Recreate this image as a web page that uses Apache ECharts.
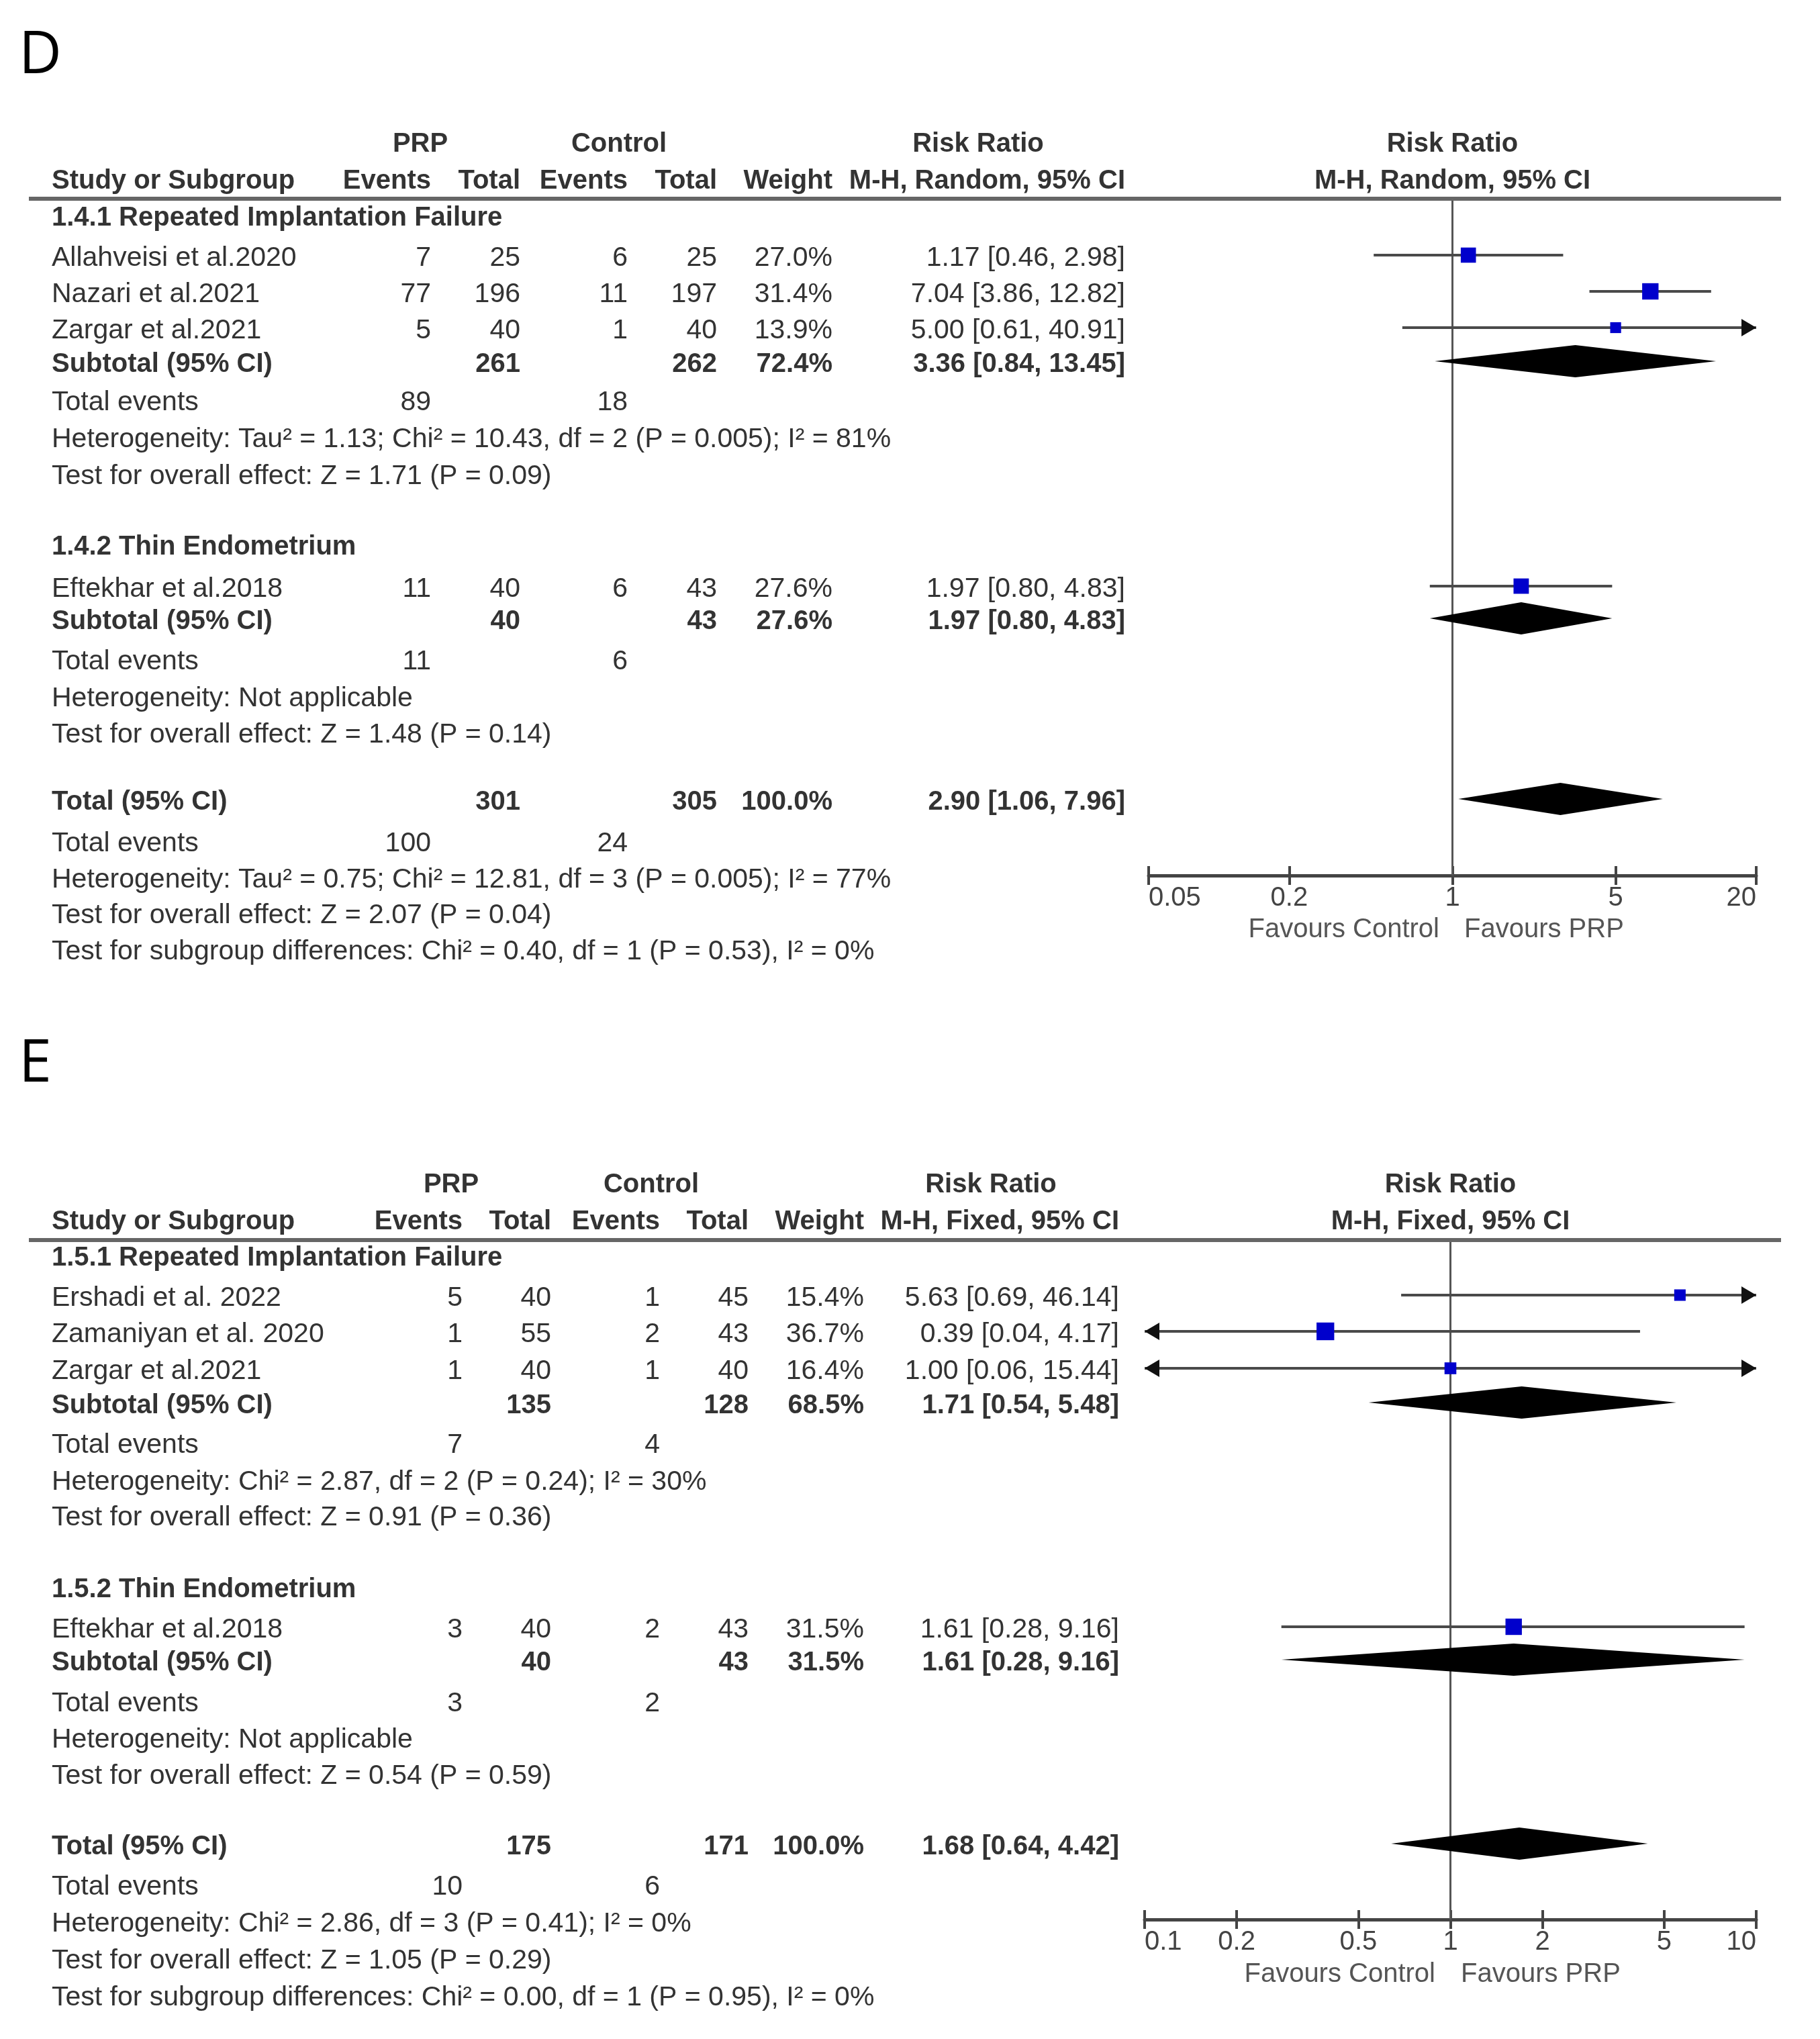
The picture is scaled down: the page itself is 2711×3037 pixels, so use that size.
<!DOCTYPE html>
<html><head><meta charset="utf-8">
<script src="https://cdn.jsdelivr.net/npm/echarts@6/dist/echarts.min.js"></script>
<style>html,body{margin:0;padding:0;background:#fff}#c{width:2711px;height:3037px}</style>
</head><body><div id="c"></div>
<script>
// ================= DATA: Panel D =================
const dStudyNames = ['Allahveisi et al.2020', 'Nazari et al.2021', 'Zargar et al.2021', 'Eftekhar et al.2018'];
const dStudyGroup = [0, 0, 0, 1];
const dPrpEvents = [7, 77, 5, 11];
const dPrpTotal = [25, 196, 40, 40];
const dCtlEvents = [6, 11, 1, 6];
const dCtlTotal = [25, 197, 40, 43];
const dWeight = [27.0, 31.4, 13.9, 27.6];
const dRR = [1.17, 7.04, 5.00, 1.97];
const dLow = [0.46, 3.86, 0.61, 0.80];
const dHigh = [2.98, 12.82, 40.91, 4.83];
const dGroupNames = ['1.4.1 Repeated Implantation Failure', '1.4.2 Thin Endometrium'];
const dSubPrpTotal = [261, 40];
const dSubCtlTotal = [262, 43];
const dSubWeight = [72.4, 27.6];
const dSubRR = [3.36, 1.97];
const dSubLow = [0.84, 0.80];
const dSubHigh = [13.45, 4.83];
const dSubPrpEvents = [89, 11];
const dSubCtlEvents = [18, 6];
const dSubHet = ['Heterogeneity: Tau² = 1.13; Chi² = 10.43, df = 2 (P = 0.005); I² = 81%', 'Heterogeneity: Not applicable'];
const dSubTest = ['Test for overall effect: Z = 1.71 (P = 0.09)', 'Test for overall effect: Z = 1.48 (P = 0.14)'];
const dTotalN = [301, 305];
const dTotalWeight = [100.0];
const dTotalCI = [2.90, 1.06, 7.96];
const dTotalEvents = [100, 24];
const dTotalNotes = ['Heterogeneity: Tau² = 0.75; Chi² = 12.81, df = 3 (P = 0.005); I² = 77%', 'Test for overall effect: Z = 2.07 (P = 0.04)', 'Test for subgroup differences: Chi² = 0.40, df = 1 (P = 0.53), I² = 0%'];
const dTicks = [0.05, 0.2, 1, 5, 20];
const dTickLabels = ['0.05', '0.2', '1', '5', '20'];
const dMethod = 'M-H, Random, 95% CI';

// ================= DATA: Panel E =================
const eStudyNames = ['Ershadi et al. 2022', 'Zamaniyan et al. 2020', 'Zargar et al.2021', 'Eftekhar et al.2018'];
const eStudyGroup = [0, 0, 0, 1];
const ePrpEvents = [5, 1, 1, 3];
const ePrpTotal = [40, 55, 40, 40];
const eCtlEvents = [1, 2, 1, 2];
const eCtlTotal = [45, 43, 40, 43];
const eWeight = [15.4, 36.7, 16.4, 31.5];
const eRR = [5.63, 0.39, 1.00, 1.61];
const eLow = [0.69, 0.04, 0.06, 0.28];
const eHigh = [46.14, 4.17, 15.44, 9.16];
const eGroupNames = ['1.5.1 Repeated Implantation Failure', '1.5.2 Thin Endometrium'];
const eSubPrpTotal = [135, 40];
const eSubCtlTotal = [128, 43];
const eSubWeight = [68.5, 31.5];
const eSubRR = [1.71, 1.61];
const eSubLow = [0.54, 0.28];
const eSubHigh = [5.48, 9.16];
const eSubPrpEvents = [7, 3];
const eSubCtlEvents = [4, 2];
const eSubHet = ['Heterogeneity: Chi² = 2.87, df = 2 (P = 0.24); I² = 30%', 'Heterogeneity: Not applicable'];
const eSubTest = ['Test for overall effect: Z = 0.91 (P = 0.36)', 'Test for overall effect: Z = 0.54 (P = 0.59)'];
const eTotalN = [175, 171];
const eTotalWeight = [100.0];
const eTotalCI = [1.68, 0.64, 4.42];
const eTotalEvents = [10, 6];
const eTotalNotes = ['Heterogeneity: Chi² = 2.86, df = 3 (P = 0.41); I² = 0%', 'Test for overall effect: Z = 1.05 (P = 0.29)', 'Test for subgroup differences: Chi² = 0.00, df = 1 (P = 0.95), I² = 0%'];
const eTicks = [0.1, 0.2, 0.5, 1, 2, 5, 10];
const eTickLabels = ['0.1', '0.2', '0.5', '1', '2', '5', '10'];
const eMethod = 'M-H, Fixed, 95% CI';

// ================= LAYOUT (positions only) =================
const layoutD = {
  letter: 'D', letterY: 84, head1Y: 215, head2Y: 270, ruleY: 296, axisY: 1304,
  groupHeadY: [325, 815], studyY: [385, 439, 493, 878], subY: [543, 926], subEvY: [600, 986],
  subHetY: [655, 1041], subTestY: [710, 1095], totalY: 1195, totEvY: 1257, totNoteY: [1311, 1364, 1418],
  cols: { study: 77, evP: 642, totP: 775, evC: 935, totC: 1068, wt: 1240, ci: 1676, prpC: 626, ctlC: 922, rrC: 1457 },
  plotLeft: 1711, plotRight: 2616, favY: 1385, favL: 2144, favR: 2181
};
const layoutE = {
  letter: 'E', letterY: 1586, head1Y: 1765, head2Y: 1820, ruleY: 1847, axisY: 2859,
  groupHeadY: [1874, 2368], studyY: [1934, 1988, 2043, 2428], subY: [2094, 2477], subEvY: [2153, 2538],
  subHetY: [2208, 2592], subTestY: [2261, 2646], totalY: 2751, totEvY: 2811, totNoteY: [2866, 2921, 2976],
  cols: { study: 77, evP: 689, totP: 821, evC: 983, totC: 1115, wt: 1287, ci: 1667, prpC: 672, ctlC: 970, rrC: 1476 },
  plotLeft: 1705, plotRight: 2616, favY: 2941, favL: 2138, favR: 2176
};

// ================= STYLE =================
const FAMILY = '"Liberation Sans", Arial, Helvetica, sans-serif';
const FS = 41, FS_BOLD = 40;
const TXT = '#333333';
const TEXT_DY = 0;
const MARK_DY = -5;
const SQ_K = 4.35;
const DIA_H = 24;
const ARW_L = 22, ARW_H = 13;

const panels = [
  { L: layoutD, names: dStudyNames, grp: dStudyGroup, pe: dPrpEvents, pt: dPrpTotal, ce: dCtlEvents, ct: dCtlTotal,
    w: dWeight, rr: dRR, lo: dLow, hi: dHigh, gNames: dGroupNames, sPt: dSubPrpTotal, sCt: dSubCtlTotal, sW: dSubWeight,
    sRR: dSubRR, sLo: dSubLow, sHi: dSubHigh, sPe: dSubPrpEvents, sCe: dSubCtlEvents, sHet: dSubHet, sTest: dSubTest,
    tN: dTotalN, tW: dTotalWeight, tCI: dTotalCI, tEv: dTotalEvents, tNotes: dTotalNotes, ticks: dTicks, tickLabels: dTickLabels, method: dMethod },
  { L: layoutE, names: eStudyNames, grp: eStudyGroup, pe: ePrpEvents, pt: ePrpTotal, ce: eCtlEvents, ct: eCtlTotal,
    w: eWeight, rr: eRR, lo: eLow, hi: eHigh, gNames: eGroupNames, sPt: eSubPrpTotal, sCt: eSubCtlTotal, sW: eSubWeight,
    sRR: eSubRR, sLo: eSubLow, sHi: eSubHigh, sPe: eSubPrpEvents, sCe: eSubCtlEvents, sHet: eSubHet, sTest: eSubTest,
    tN: eTotalN, tW: eTotalWeight, tCI: eTotalCI, tEv: eTotalEvents, tNotes: eTotalNotes, ticks: eTicks, tickLabels: eTickLabels, method: eMethod }
];

function fmtW(v) { return v.toFixed(1) + '%'; }
function fmtCI(r, l, h) { return r.toFixed(2) + ' [' + l.toFixed(2) + ', ' + h.toFixed(2) + ']'; }

function txt(text, x, y, align, bold, opts) {
  opts = opts || {};
  const size = opts.size || (bold ? FS_BOLD : FS);
  return {
    type: 'text', x: x, y: y + TEXT_DY, silent: true, z: 10,
    style: {
      text: String(text), fill: opts.fill || TXT,
      font: (bold ? 'bold ' : '') + size + 'px ' + (opts.family || FAMILY),
      align: align, verticalAlign: 'middle', textAlign: align, textVerticalAlign: 'middle'
    }
  };
}

const graphics = [];
const grids = [], xAxes = [], yAxes = [], series = [];

panels.forEach(function (p, pi) {
  const L = p.L, C = L.cols;
  const minL = Math.log10(p.ticks[0]), maxL = Math.log10(p.ticks[p.ticks.length - 1]);
  const oneX = L.plotLeft + (0 - minL) / (maxL - minL) * (L.plotRight - L.plotLeft);

  // panel letter
  graphics.push(txt(L.letter, 28, L.letterY, 'left', false, { size: 88, fill: '#000', family: '"Open Sans", "Liberation Sans", sans-serif' }));
  // headers
  graphics.push(txt('PRP', C.prpC, L.head1Y, 'center', true));
  graphics.push(txt('Control', C.ctlC, L.head1Y, 'center', true));
  graphics.push(txt('Risk Ratio', C.rrC, L.head1Y, 'center', true));
  graphics.push(txt('Risk Ratio', oneX, L.head1Y, 'center', true));
  graphics.push(txt('Study or Subgroup', C.study, L.head2Y, 'left', true));
  graphics.push(txt('Events', C.evP, L.head2Y, 'right', true));
  graphics.push(txt('Total', C.totP, L.head2Y, 'right', true));
  graphics.push(txt('Events', C.evC, L.head2Y, 'right', true));
  graphics.push(txt('Total', C.totC, L.head2Y, 'right', true));
  graphics.push(txt('Weight', C.wt, L.head2Y, 'right', true));
  graphics.push(txt(p.method, C.ci, L.head2Y, 'right', true));
  graphics.push(txt(p.method, oneX, L.head2Y, 'center', true));
  // header rule
  graphics.push({ type: 'line', silent: true, z: 5, shape: { x1: 43, y1: L.ruleY, x2: 2653, y2: L.ruleY }, style: { stroke: '#666666', lineWidth: 6 } });

  // groups
  p.gNames.forEach(function (gName, g) {
    graphics.push(txt(gName, C.study, L.groupHeadY[g], 'left', true));
    p.names.forEach(function (nm, i) {
      if (p.grp[i] !== g) return;
      const y = L.studyY[i];
      graphics.push(txt(nm, C.study, y, 'left', false));
      graphics.push(txt(p.pe[i], C.evP, y, 'right', false));
      graphics.push(txt(p.pt[i], C.totP, y, 'right', false));
      graphics.push(txt(p.ce[i], C.evC, y, 'right', false));
      graphics.push(txt(p.ct[i], C.totC, y, 'right', false));
      graphics.push(txt(fmtW(p.w[i]), C.wt, y, 'right', false));
      graphics.push(txt(fmtCI(p.rr[i], p.lo[i], p.hi[i]), C.ci, y, 'right', false));
    });
    const sy = L.subY[g];
    graphics.push(txt('Subtotal (95% CI)', C.study, sy, 'left', true));
    graphics.push(txt(p.sPt[g], C.totP, sy, 'right', true));
    graphics.push(txt(p.sCt[g], C.totC, sy, 'right', true));
    graphics.push(txt(fmtW(p.sW[g]), C.wt, sy, 'right', true));
    graphics.push(txt(fmtCI(p.sRR[g], p.sLo[g], p.sHi[g]), C.ci, sy, 'right', true));
    graphics.push(txt('Total events', C.study, L.subEvY[g], 'left', false));
    graphics.push(txt(p.sPe[g], C.evP, L.subEvY[g], 'right', false));
    graphics.push(txt(p.sCe[g], C.evC, L.subEvY[g], 'right', false));
    graphics.push(txt(p.sHet[g], C.study, L.subHetY[g], 'left', false));
    graphics.push(txt(p.sTest[g], C.study, L.subTestY[g], 'left', false));
  });
  // overall total
  graphics.push(txt('Total (95% CI)', C.study, L.totalY, 'left', true));
  graphics.push(txt(p.tN[0], C.totP, L.totalY, 'right', true));
  graphics.push(txt(p.tN[1], C.totC, L.totalY, 'right', true));
  graphics.push(txt(fmtW(p.tW[0]), C.wt, L.totalY, 'right', true));
  graphics.push(txt(fmtCI(p.tCI[0], p.tCI[1], p.tCI[2]), C.ci, L.totalY, 'right', true));
  graphics.push(txt('Total events', C.study, L.totEvY, 'left', false));
  graphics.push(txt(p.tEv[0], C.evP, L.totEvY, 'right', false));
  graphics.push(txt(p.tEv[1], C.evC, L.totEvY, 'right', false));
  p.tNotes.forEach(function (n, k) { graphics.push(txt(n, C.study, L.totNoteY[k], 'left', false)); });
  // favours
  graphics.push(txt('Favours Control', L.favL, L.favY, 'right', false, { fill: '#555555', size: 40 }));
  graphics.push(txt('Favours PRP', L.favR, L.favY, 'left', false, { fill: '#555555', size: 40 }));

  // ----- grid & axes -----
  grids.push({ left: L.plotLeft, width: L.plotRight - L.plotLeft, top: L.ruleY, height: L.axisY - L.ruleY, outerBoundsMode: 'none', containLabel: false });
  const tickVals = p.ticks.map(function (t) { return Math.log10(t); });
  const labelFor = function (v) {
    let best = 0, bd = Infinity;
    tickVals.forEach(function (t, k) { const d = Math.abs(t - v); if (d < bd) { bd = d; best = k; } });
    return p.tickLabels[best];
  };
  xAxes.push({
    type: 'value', gridIndex: pi, position: 'bottom', min: minL, max: maxL,
    axisLine: { show: true, onZero: false, lineStyle: { color: '#444444', width: 5 } },
    axisTick: { show: true, customValues: tickVals, length: 14, lineStyle: { color: '#444444', width: 4 } },
    axisLabel: { show: true, customValues: tickVals, formatter: labelFor, fontSize: 40, fontFamily: FAMILY, color: '#444444', margin: 14, alignMinLabel: 'left', alignMaxLabel: 'right', hideOverlap: false },
    splitLine: { show: false }
  });
  xAxes.push({
    type: 'value', gridIndex: pi, position: 'bottom', offset: 0, min: minL, max: maxL,
    axisLine: { show: false, onZero: false },
    axisTick: { show: true, inside: true, customValues: tickVals, length: 14, lineStyle: { color: '#444444', width: 4 } },
    axisLabel: { show: false }, splitLine: { show: false }
  });
  yAxes.push({ type: 'value', gridIndex: pi, min: L.ruleY, max: L.axisY, inverse: true, show: false, splitLine: { show: false } });

  const xi = pi * 2, yi = pi;

  // reference line at RR = 1
  series.push({
    type: 'custom', xAxisIndex: xi, yAxisIndex: yi, clip: false, silent: true, z: 2,
    data: [[0, L.ruleY, L.axisY]],
    renderItem: function (params, api) {
      const a = api.coord([api.value(0), api.value(1)]), b = api.coord([api.value(0), api.value(2)]);
      return { type: 'line', shape: { x1: a[0], y1: a[1], x2: b[0], y2: b[1] }, style: { stroke: '#555555', lineWidth: 3 } };
    }
  });

  // study CIs + squares
  const studyData = p.names.map(function (nm, i) {
    return [Math.log10(p.rr[i]), L.studyY[i] + MARK_DY, Math.log10(p.lo[i]), Math.log10(p.hi[i]), p.w[i]];
  });
  series.push({
    type: 'custom', xAxisIndex: xi, yAxisIndex: yi, clip: false, silent: true, z: 4,
    data: studyData,
    renderItem: function (params, api) {
      const c = api.value(0), y = api.value(1), lo = api.value(2), hi = api.value(3), w = api.value(4);
      const loC = Math.max(lo, minL), hiC = Math.min(hi, maxL);
      const p1 = api.coord([loC, y]), p2 = api.coord([hiC, y]), pc = api.coord([c, y]);
      const ch = [{ type: 'line', shape: { x1: p1[0], y1: p1[1], x2: p2[0], y2: p2[1] }, style: { stroke: '#4a4a4a', lineWidth: 4 } }];
      if (lo < minL) ch.push({ type: 'polygon', shape: { points: [[p1[0], p1[1]], [p1[0] + ARW_L, p1[1] - ARW_H], [p1[0] + ARW_L, p1[1] + ARW_H]] }, style: { fill: '#111111' } });
      if (hi > maxL) ch.push({ type: 'polygon', shape: { points: [[p2[0], p2[1]], [p2[0] - ARW_L, p2[1] - ARW_H], [p2[0] - ARW_L, p2[1] + ARW_H]] }, style: { fill: '#111111' } });
      const s = SQ_K * Math.sqrt(w);
      ch.push({ type: 'rect', shape: { x: pc[0] - s / 2, y: pc[1] - s / 2, width: s, height: s }, style: { fill: '#0000CC' } });
      return { type: 'group', children: ch };
    }
  });

  // diamonds (subtotals + total)
  const diaData = p.sRR.map(function (r, g) {
    return [Math.log10(r), L.subY[g] + MARK_DY, Math.log10(p.sLo[g]), Math.log10(p.sHi[g])];
  });
  diaData.push([Math.log10(p.tCI[0]), L.totalY + MARK_DY, Math.log10(p.tCI[1]), Math.log10(p.tCI[2])]);
  series.push({
    type: 'custom', xAxisIndex: xi, yAxisIndex: yi, clip: false, silent: true, z: 4,
    data: diaData,
    renderItem: function (params, api) {
      const yv = api.value(1);
      const pc = api.coord([api.value(0), yv]), pl = api.coord([api.value(2), yv]), ph = api.coord([api.value(3), yv]);
      return { type: 'polygon', shape: { points: [[pl[0], pc[1]], [pc[0], pc[1] - DIA_H], [ph[0], pc[1]], [pc[0], pc[1] + DIA_H]] }, style: { fill: '#000000' } };
    }
  });
});

const chart = echarts.init(document.getElementById('c'), null, { renderer: 'canvas', width: 2711, height: 3037 });
chart.setOption({
  backgroundColor: '#ffffff',
  animation: false,
  grid: grids,
  xAxis: xAxes,
  yAxis: yAxes,
  series: series,
  graphic: { elements: graphics }
});
</script>
</body></html>
